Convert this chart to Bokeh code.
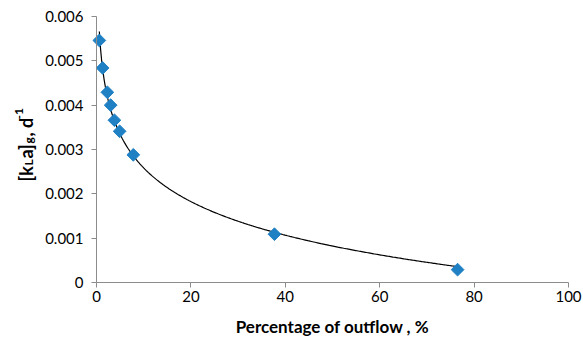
import numpy as np
from bokeh.plotting import figure
from bokeh.models import Range1d, FixedTicker, CustomJSTickFormatter, ColumnDataSource, LinearAxis, Label
from bokeh.embed import file_html
from bokeh.resources import INLINE

# Data
outflow_pct = [0.6, 1.3, 2.3, 3.0, 3.8, 4.9, 7.8, 37.7, 76.5]
kla_g = [0.00546, 0.00484, 0.00429, 0.00400, 0.00366, 0.00341, 0.00288, 0.00109, 0.00029]
x_ticks = [0, 20, 40, 60, 80, 100]
y_ticks = [0, 0.001, 0.002, 0.003, 0.004, 0.005, 0.006]
x_title = "Percentage of outflow , %"
# y title pieces: text, role (main / sub / sup)
y_title_parts = [("[k", "main"), ("L", "sub"), ("a]", "main"), ("g", "sub"), (", d", "main"), ("-1", "sup")]

FONT = "Lato"
W, H = 583, 344
X_END_PX = 568         # where x = 100 sits (px)
AXIS_X = 96            # where x = 0 sits (px)
TOP, BOTTOM = 16, 282  # where y = 0.006 and y = 0 sit (px)
Y_MAX = 0.006
X_MAX = 100

# the frame covers the whole canvas so the axes, tick labels
# and the rotated y title can all be drawn inside it
x_per_px = X_MAX / (X_END_PX - AXIS_X)
x0 = -AXIS_X * x_per_px
x_hi = X_MAX + (W - X_END_PX) * x_per_px
per_px = Y_MAX / (BOTTOM - TOP)
y_lo = -(H - BOTTOM) * per_px
y_hi = Y_MAX + TOP * per_px

# logarithmic trendline fitted to the data (like a spreadsheet trendline)
b, a = np.polyfit(np.log(outflow_pct), kla_g, 1)
xf = np.linspace(min(outflow_pct), max(outflow_pct), 300)
yf = a + b * np.log(xf)

p = figure(width=W, height=H, output_backend="svg", toolbar_location=None, title=None,
           x_range=Range1d(x0, x_hi), y_range=Range1d(y_lo, y_hi),
           x_axis_location=None, y_axis_location=None,
           min_border_left=0, min_border_right=0, min_border_top=0, min_border_bottom=0)
p.outline_line_color = None
p.xgrid.visible = False
p.ygrid.visible = False

p.line(xf, yf, line_color="black", line_width=1.2)
src = ColumnDataSource(dict(x=outflow_pct, y=kla_g))
p.scatter("x", "y", source=src, marker="square", size=9, angle=np.pi / 4,
          fill_color="#1f80c4", line_color="#1f80c4")

yax = LinearAxis(fixed_location=0, bounds=(0, Y_MAX))
xax = LinearAxis(fixed_location=0, bounds=(0, X_MAX))
p.add_layout(yax, "left")
p.add_layout(xax, "below")

for ax in (xax, yax):
    ax.axis_line_color = "#8c8c8c"
    ax.major_tick_line_color = "#8c8c8c"
    ax.major_tick_out = 5
    ax.major_tick_in = 0
    ax.minor_tick_out = 0
    ax.minor_tick_in = 0
    ax.major_label_text_font = FONT
    ax.major_label_text_font_size = "15px"
    ax.major_label_text_color = "black"

xax.ticker = FixedTicker(ticks=x_ticks)
yax.ticker = FixedTicker(ticks=y_ticks)
yax.formatter = CustomJSTickFormatter(code="return tick == 0 ? '0' : tick.toFixed(3);")
xax.major_label_standoff = 3
yax.major_label_standoff = 8

xax.axis_label = x_title
xax.axis_label_text_font = FONT
xax.axis_label_text_font_style = "bold"
xax.axis_label_text_font_size = "17px"
xax.axis_label_text_color = "black"
xax.axis_label_standoff = 11

# rotated y-axis title built from pieces (sub/superscripts), positions in px
def px_to_x(px):
    return x0 + px * x_per_px

def py_to_y(py):
    return (BOTTOM - py) * per_px

starts = [181, 165, 158, 143, 136, 119]   # pixel rows where each piece begins
base_x = {"main": 25, "sub": 28, "sup": 18}
sizes = {"main": "18px", "sub": "12px", "sup": "12px"}
for (txt, role), py in zip(y_title_parts, starts):
    p.add_layout(Label(x=px_to_x(base_x[role]), y=py_to_y(py), text=txt, angle=np.pi / 2,
                       text_font=FONT, text_font_style="bold", text_font_size=sizes[role],
                       text_color="black", text_align="left", text_baseline="alphabetic"))

open("out.html", "w").write(file_html(p, INLINE))
